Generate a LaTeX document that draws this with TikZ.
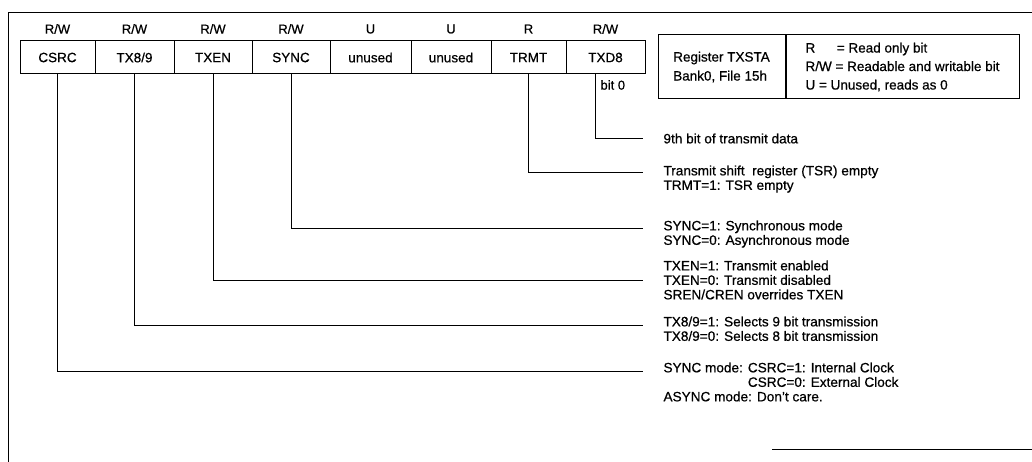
\documentclass[tikz,border=0pt]{standalone}
\usepackage{fontspec}
\setmainfont{Liberation Sans}[FakeBold=0.6]
\begin{document}
\begin{tikzpicture}[x=1pt,y=-1pt,line width=1pt,
  cell/.style={draw, minimum height=33pt, inner sep=0pt, font=\fontsize{13.5}{15}\selectfont},
  acc/.style={inner sep=0pt, font=\fontsize{13}{15}\selectfont},
  desc/.style={anchor=north west, inner sep=0pt, align=left, font=\fontsize{13.6}{14.5}\selectfont},
  legbox/.style={draw, minimum height=64pt, inner sep=0pt, align=left, font=\fontsize{13.5}{19}\selectfont}]
\useasboundingbox (0,0) rectangle (1032,462);
% outer frame (partial, as printed)
\draw (1032,13) -- (8,13) -- (8,462);
\draw (772,449) -- (1032,449);
% register cells
\node[cell, minimum width=75pt] (csrc) at (57.5,57.5) {CSRC};
\node[cell, minimum width=79pt] (tx89) at (134.5,57.5) {TX8/9};
\node[cell, minimum width=78pt] (txen) at (213,57.5) {TXEN};
\node[cell, minimum width=78pt] (sync) at (291,57.5) {SYNC};
\node[cell, minimum width=81pt] (un1) at (370.5,57.5) {unused};
\node[cell, minimum width=80pt] (un2) at (451,57.5) {unused};
\node[cell, minimum width=75pt] (trmt) at (528.5,57.5) {TRMT};
\node[cell, minimum width=79pt] (txd8) at (605.5,57.5) {TXD8};
% access labels
\node[acc] (a7) at (57.5,29) {R/W};
\node[acc] (a6) at (134.5,29) {R/W};
\node[acc] (a5) at (213,29) {R/W};
\node[acc] (a4) at (291,29) {R/W};
\node[acc] (a3) at (370.5,29) {U};
\node[acc] (a2) at (451,29) {U};
\node[acc] (a1) at (528.5,29) {R};
\node[acc] (a0) at (605.5,29) {R/W};
\node[acc, anchor=west] (bit0) at (600,85) {bit 0};
% legend
\node[legbox, minimum width=127pt] (regname) at (721.5,67) {Register TXSTA\\Bank0, File 15h};
\node[legbox, minimum width=233pt, anchor=west, inner xsep=7pt, font=\fontsize{13.5}{18.5}\selectfont] (regkey) at (regname.east)
  {R\hspace{1.6em}= Read only bit\\R/W = Readable and writable bit\\U = Unused, reads as 0};
% line end points
\coordinate (e0) at (643,139);
\coordinate (e1) at (643,173);
\coordinate (e2) at (643,229);
\coordinate (e3) at (643,280);
\coordinate (e4) at (643,325);
\coordinate (e5) at (643,371);
% descriptions
\node[desc] (d0) at (663,133) {9th bit of transmit data};
\node[desc] (d1) at (663,165) {Transmit shift\ \ register (TSR) empty\\TRMT=1: TSR empty};
\node[desc] (d2) at (663,220) {SYNC=1: Synchronous mode\\SYNC=0: Asynchronous mode};
\node[desc] (d3) at (663,260) {TXEN=1: Transmit enabled\\TXEN=0: Transmit disabled\\SREN/CREN overrides TXEN};
\node[desc] (d4) at (663,316) {TX8/9=1: Selects 9 bit transmission\\TX8/9=0: Selects 8 bit transmission};
\node[desc] (d5) at (663,362) {SYNC mode: CSRC=1: Internal Clock\\\phantom{SYNC mode: }CSRC=0: External Clock\\ASYNC mode: Don't care.};
% connectors
\draw ([xshift=-10.5pt]txd8.south) |- (e0);
\draw (trmt.south) |- (e1);
\draw (sync.south) |- (e2);
\draw (txen.south) |- (e3);
\draw (tx89.south) |- (e4);
\draw (csrc.south) |- (e5);
\end{tikzpicture}
\end{document}
